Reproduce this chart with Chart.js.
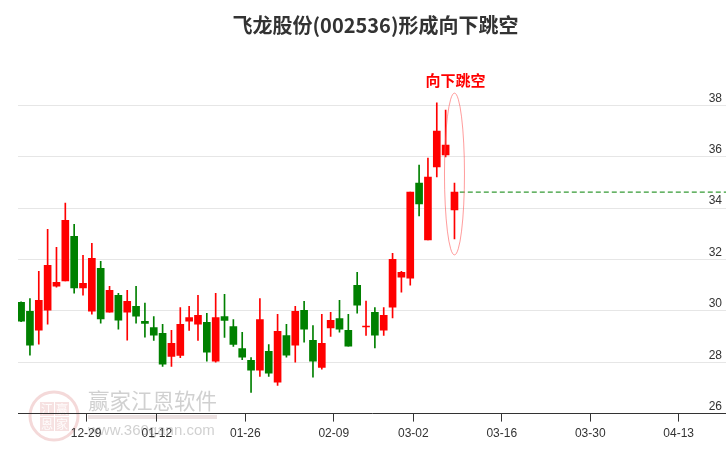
<!DOCTYPE html>
<html>
<head>
<meta charset="utf-8">
<script src="https://cdn.jsdelivr.net/npm/chart.js@4.4.1/dist/chart.umd.min.js"></script>
<style>
html, body { margin: 0; padding: 0; background: #fff; }
</style>
</head>
<body>
<canvas id="klineChart" width="726" height="450"></canvas>
<script>
const chartTitle = '飞龙股份(002536)形成向下跳空';
const gapLabel = '向下跳空';

// daily candles, one per trading day (index 0 = first day shown)
const opens  = [30.33, 29.98, 29.25, 30.03, 30.96, 31.16, 32.90, 30.89, 29.99, 31.65,
                29.95, 30.60, 29.95, 30.17, 29.59, 29.35, 29.12, 28.23, 28.26, 29.60,
                29.48, 29.55, 28.04, 29.78, 29.39, 28.53, 28.07, 27.69, 28.42, 27.22,
                29.04, 28.66, 30.02, 28.85, 27.80, 29.33, 29.70, 29.24, 30.99, 29.37,
                29.94, 29.25, 30.14, 31.31, 31.27, 34.97, 32.76, 35.60, 36.07, 33.93];
const closes = [29.60, 28.66, 30.41, 31.77, 31.11, 33.52, 30.89, 31.07, 32.04, 29.68,
                30.80, 29.64, 30.37, 29.79, 29.51, 29.05, 27.92, 28.73, 29.47, 29.74,
                29.82, 28.39, 29.74, 29.63, 28.69, 28.20, 27.69, 29.66, 27.57, 29.20,
                28.27, 29.98, 29.29, 28.04, 28.73, 29.63, 29.29, 28.62, 30.22, 29.41,
                29.05, 29.82, 32.00, 31.50, 34.62, 34.16, 35.20, 36.99, 36.45, 34.62];
const highs  = [30.35, 30.48, 31.54, 33.17, 32.47, 34.19, 33.37, 32.16, 32.63, 31.93,
                30.95, 30.68, 30.80, 30.95, 30.30, 29.78, 29.47, 29.24, 30.13, 30.17,
                30.60, 29.90, 30.68, 30.64, 29.66, 29.16, 28.18, 30.48, 28.69, 29.86,
                29.47, 30.17, 30.37, 29.43, 29.86, 29.94, 30.41, 29.86, 31.50, 30.38,
                30.13, 30.13, 32.24, 31.54, 34.62, 35.67, 35.94, 38.09, 37.81, 34.97];
const lows   = [29.58, 28.27, 28.70, 29.48, 30.92, 31.16, 30.69, 30.61, 29.87, 29.52,
                29.95, 29.29, 28.86, 29.52, 28.97, 28.85, 27.84, 27.84, 28.18, 29.24,
                28.85, 28.04, 28.00, 28.96, 28.61, 28.10, 26.82, 27.45, 27.45, 27.10,
                28.20, 28.00, 28.78, 27.42, 27.73, 29.00, 29.17, 28.62, 29.91, 29.04,
                28.56, 29.04, 29.72, 30.73, 31.00, 33.69, 32.76, 35.21, 35.99, 32.80];

// x axis labels and the trading-day index each one sits on
const tickLabels = ['12-29', '01-12', '01-26', '02-09', '03-02', '03-16', '03-30', '04-13'];
const tickIdx = [7, 15, 25, 35, 44, 54, 64, 74];
const tickShift = 0.35;

const yTicks = { min: 26, max: 39.8, step: 2 };
const xRange = { min: -0.35, max: 79.7 };

const upColor = '#ff0000';
const downColor = '#008000';

const candleColors = opens.map((o, i) => closes[i] >= o ? upColor : downColor);
const lastIdx = opens.length - 1;

const watermark = {
    id: 'watermark',
    beforeDraw(chart) {
        const ctx = chart.ctx;
        ctx.save();
        // round logo
        ctx.strokeStyle = 'rgba(215, 120, 120, 0.28)';
        ctx.lineWidth = 3;
        ctx.beginPath();
        ctx.arc(54, 416, 24, 0, Math.PI * 2);
        ctx.stroke();
        const chars = ['江', '赢', '恩', '家'];
        ctx.font = '12px "Noto Sans CJK SC"';
        ctx.textAlign = 'center';
        ctx.textBaseline = 'middle';
        chars.forEach((c, k) => {
            const bx = 40 + (k % 2) * 15;
            const by = 402 + Math.floor(k / 2) * 15;
            ctx.fillStyle = 'rgba(215, 120, 120, 0.22)';
            ctx.fillRect(bx, by, 14, 14);
            ctx.fillStyle = 'rgba(255, 255, 255, 0.9)';
            ctx.fillText(c, bx + 7, by + 7);
        });
        ctx.fillStyle = 'rgba(150, 150, 150, 0.45)';
        ctx.font = '21.5px "Noto Sans CJK SC"';
        ctx.textAlign = 'left';
        ctx.fillText('赢家江恩软件', 88, 401);
        ctx.fillStyle = 'rgba(200, 170, 170, 0.35)';
        ctx.fillRect(88, 415, 129, 4);
        ctx.fillStyle = 'rgba(150, 150, 150, 0.45)';
        ctx.font = '15px "Liberation Sans"';
        ctx.fillText('www.360gann.com', 88, 431);
        ctx.restore();
    }
};

const gapMark = {
    id: 'gapMark',
    afterDatasetsDraw(chart) {
        const { ctx, scales: { x, y } } = chart;
        const cx = x.getPixelForValue(lastIdx);
        const top = y.getPixelForValue(Math.max(highs[lastIdx - 1], highs[lastIdx])) - 17;
        const bottom = y.getPixelForValue(lows[lastIdx]) + 16;
        ctx.save();
        ctx.strokeStyle = 'rgba(255, 90, 90, 0.6)';
        ctx.lineWidth = 1;
        ctx.beginPath();
        ctx.ellipse(cx, (top + bottom) / 2, 10, (bottom - top) / 2, 0, 0, Math.PI * 2);
        ctx.stroke();
        ctx.fillStyle = upColor;
        ctx.font = 'bold 15px "Noto Sans CJK SC"';
        ctx.textAlign = 'center';
        ctx.textBaseline = 'middle';
        ctx.fillText(gapLabel, cx + 1, top - 13);
        ctx.restore();
    }
};

new Chart(document.getElementById('klineChart'), {
    type: 'bar',
    data: {
        datasets: [{
            label: 'body',
            data: opens.map((o, i) => ({ x: i, y: [o, closes[i]] })),
            backgroundColor: candleColors,
            borderWidth: 0,
            barThickness: 7,
            grouped: false,
            order: 0
        }, {
            label: 'wick',
            data: highs.map((h, i) => ({ x: i, y: [lows[i], h] })),
            backgroundColor: candleColors,
            borderWidth: 0,
            barThickness: 1,
            grouped: false,
            order: 1
        }, {
            type: 'line',
            label: 'last',
            data: [{ x: lastIdx + 0.6, y: closes[lastIdx] }, { x: xRange.max, y: closes[lastIdx] }],
            borderColor: downColor,
            borderWidth: 1,
            borderDash: [5, 3],
            pointRadius: 0,
            order: 2
        }]
    },
    options: {
        responsive: false,
        devicePixelRatio: 1,
        animation: false,
        events: [],
        layout: { padding: { left: 18, right: -7, top: 0, bottom: 4 } },
        plugins: {
            legend: { display: false },
            tooltip: { enabled: false },
            title: {
                display: true,
                text: chartTitle,
                color: '#333',
                font: { family: '"Noto Sans CJK SC"', size: 20, weight: 'bold' },
                padding: { top: 13, bottom: 22 }
            }
        },
        scales: {
            x: {
                type: 'linear',
                min: xRange.min,
                max: xRange.max,
                offset: false,
                afterBuildTicks: scale => {
                    scale.ticks = tickIdx.map(v => ({ value: v + tickShift }));
                },
                ticks: {
                    autoSkip: false,
                    maxRotation: 0,
                    padding: 5,
                    color: '#333',
                    font: { family: '"Liberation Sans"', size: 12 },
                    callback: (val, index) => tickLabels[index]
                },
                grid: {
                    offset: false,
                    drawOnChartArea: false,
                    drawTicks: true,
                    tickLength: 8,
                    color: '#333'
                },
                border: { display: true, color: '#333', width: 1 }
            },
            y: {
                position: 'right',
                min: yTicks.min,
                max: yTicks.max,
                ticks: {
                    stepSize: yTicks.step,
                    includeBounds: false,
                    mirror: true,
                    padding: -4,
                    labelOffset: -7,
                    color: '#333',
                    font: { family: '"Liberation Sans"', size: 12 }
                },
                grid: { color: '#e6e6e6', drawTicks: false },
                border: { display: false }
            }
        }
    },
    plugins: [watermark, gapMark]
});
</script>
</body>
</html>
